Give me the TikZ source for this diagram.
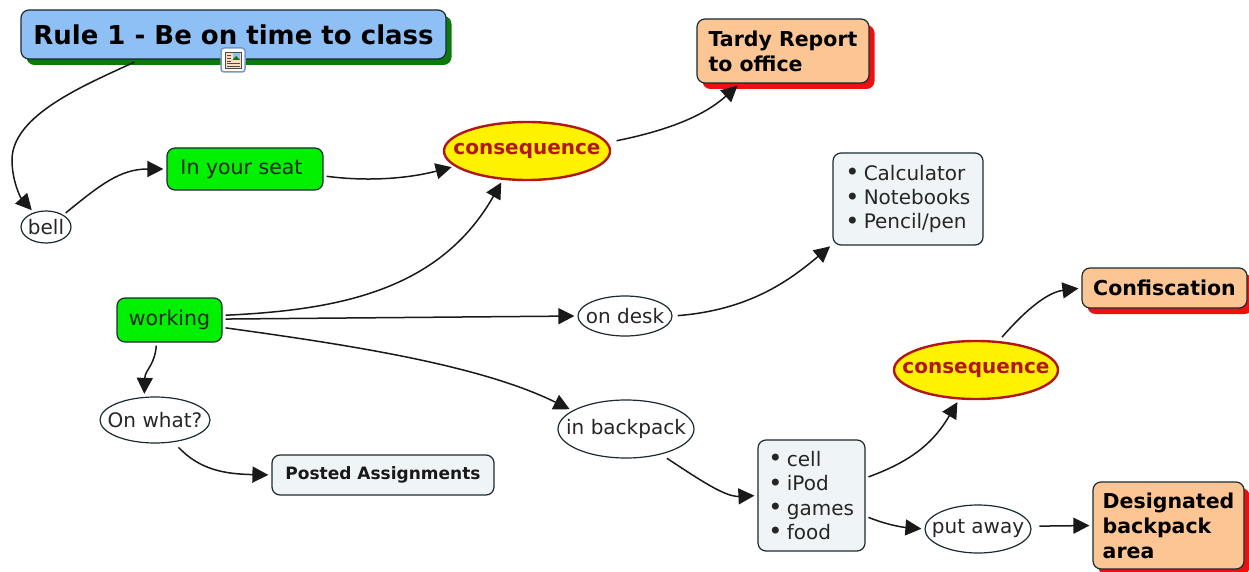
\documentclass[tikz,border=0pt]{standalone}
\usepackage{fontspec}
\setmainfont{DejaVu Sans}
\usetikzlibrary{arrows.meta,shapes.geometric,shadows}
\definecolor{rulefill}{HTML}{8FC0F5}
\definecolor{greenfill}{HTML}{00F000}
\definecolor{orangefill}{HTML}{FBC594}
\definecolor{listfill}{HTML}{EFF4F6}
\definecolor{linecol}{HTML}{1A2A30}
\definecolor{conscol}{HTML}{B01818}
\definecolor{greenshadow}{HTML}{0A7A0A}
\definecolor{redshadow}{HTML}{EE1010}
\tikzset{
  box/.style={draw=linecol,line width=1.2pt,rounded corners=8pt,inner sep=0pt,align=left},
  rulebox/.style={box,fill=rulefill,minimum width=425pt,minimum height=49pt,font=\fontsize{26}{30}\selectfont\bfseries,text=black,
     copy shadow={shadow xshift=5.5pt,shadow yshift=-6pt,fill=greenshadow,draw=none,opacity=1}},
  greenbox/.style={box,fill=greenfill,font=\fontsize{20.5}{24}\selectfont,text=black!85},
  resultbox/.style={box,fill=orangefill,font=\fontsize{20.5}{25}\selectfont\bfseries,text=black,
     copy shadow={shadow xshift=5.5pt,shadow yshift=-6pt,fill=redshadow,draw=none,opacity=1}},
  listbox/.style={box,fill=listfill,font=\fontsize{20}{24.4}\selectfont,text=black!85},
  oval/.style={draw=linecol,line width=1.2pt,ellipse,inner xsep=-60pt,inner ysep=-12pt,fill=white,font=\fontsize{20}{24}\selectfont,text=black!85},
  consoval/.style={draw=conscol,line width=2.4pt,ellipse,inner xsep=-60pt,inner ysep=-12pt,fill=yellow,font=\fontsize{20}{24}\selectfont\bfseries,text=conscol},
  link/.style={draw=black!90,line width=1.5pt,-{Triangle[length=16pt,width=16pt]},shorten >=3pt,shorten <=3pt},
}
\newcommand{\itm}[1]{\makebox[18pt][l]{\hspace{-.5pt}\raisebox{-.5pt}{\fontsize{24}{24}\selectfont\textbullet}}#1}
\begin{document}
\begin{tikzpicture}[x=1pt,y=-1pt]
\useasboundingbox (0,0) rectangle (1249,572);
% nodes
\node[rulebox] (rule) at (233.5,34.5) {Rule 1 - Be on time to class};
\node[greenbox,minimum width=156pt,minimum height=42pt] (seat) at (245,169) {In your seat\hspace{7pt}};
\node[greenbox,minimum width=105pt,minimum height=44pt] (working) at (169.5,320) {working};
\node[oval,minimum width=50pt,minimum height=32pt] (bell) at (46,227) {bell};
\node[oval,minimum width=110pt,minimum height=46pt] (what) at (155,420) {On what?};
\node[box,fill=listfill,minimum width=222pt,minimum height=40pt,font=\fontsize{17}{20}\selectfont\bfseries,text=black!90] (posted) at (383,475) {Posted Assignments};
\node[consoval,minimum width=166pt,minimum height=58pt] (consa) at (527,151) {consequence};
\node[resultbox,minimum width=172pt,minimum height=64pt] (tardy) at (783,51) {Tardy Report\\to office\hspace{55pt}};
\node[listbox,minimum width=150pt,minimum height=92pt] (calc) at (908,199) {\itm{Calculator}\\\itm{Notebooks}\\\itm{Pencil/pen}};
\node[oval,minimum width=94pt,minimum height=40pt] (desk) at (625,316) {on desk};
\node[oval,minimum width=136pt,minimum height=58pt] (pack) at (626,429) {in backpack};
\node[listbox,minimum width=107pt,minimum height=111pt] (items) at (811.5,495.5) {\itm{cell}\\\itm{iPod}\\\itm{games}\\\itm{food}};
\node[consoval,minimum width=164pt,minimum height=58pt] (consb) at (976,370) {consequence};
\node[resultbox,minimum width=165pt,minimum height=40pt] (conf) at (1164.5,288) {Confiscation};
\node[oval,minimum width=106pt,minimum height=48pt] (away) at (978,529) {put away};
\node[resultbox,minimum width=151pt,minimum height=87pt] (area) at (1168.5,525.5) {Designated\\backpack\\area};
% connectors
\draw[link,shorten <=6pt] (rule.195) .. controls (85,85) and (12,115) .. (12,160) .. controls (12,180) and (20,197) .. (bell.130);
\draw[link] (bell.35) .. controls (100,185) and (120,169) .. (seat.west);
\draw[link] (seat.-5.9) .. controls (370,182) and (410,178) .. (consa.192.5);
\draw[link] (working.5.4) .. controls (340,310) and (440,290) .. (consa.230.7);
\draw[link] (working.1) -- (desk.west);
\draw[link] (working.-8.7) .. controls (350,345) and (480,365) .. (pack.161);
\draw[link] (working.240) .. controls (155,365) and (145,370) .. (what.115);
\draw[link,shorten <=7pt] (what.-50) .. controls (200,470) and (225,474) .. (posted.west);
\draw[link,shorten <=5pt] (desk.east) .. controls (750,310) and (790,280) .. (calc.211.5);
\draw[link,shorten <=9pt] (consa.6) .. controls (670,130) and (705,115) .. (tardy.217.3);
\draw[link,shorten <=7pt] (pack.-36) .. controls (700,480) and (725,497) .. (items.west);
\draw[link] (items.18) .. controls (915,460) and (935,440) .. (consb.240.6);
\draw[link,shorten <=5pt] (consb.52) .. controls (1030,305) and (1050,292) .. (conf.west);
\draw[link] (items.-21.9) .. controls (885,524) and (900,527) .. (away.west);
\draw[link,shorten <=8pt] (away.3) -- (area.west);
% icon
\node[draw=rulefill!80!black,line width=1.5pt,fill=white,rounded corners=3pt,minimum size=24pt,inner sep=0pt] (icon) at (233,60) {};
\fill[orangefill!60!white,draw=black!70,line width=.6pt] (225,52) rectangle (241,68);
\fill[rulefill] (232.5,53.5) rectangle (240,60);
\fill[green!50!black] (232.5,60) -- (236,56) -- (240,60) -- cycle;
\foreach \yy in {55,58,61}{\draw[black!70,line width=.8pt] (227,\yy) -- (231,\yy);}
\foreach \yy in {63.5,66}{\draw[black!70,line width=.8pt] (227,\yy) -- (239.5,\yy);}
\end{tikzpicture}
\end{document}
